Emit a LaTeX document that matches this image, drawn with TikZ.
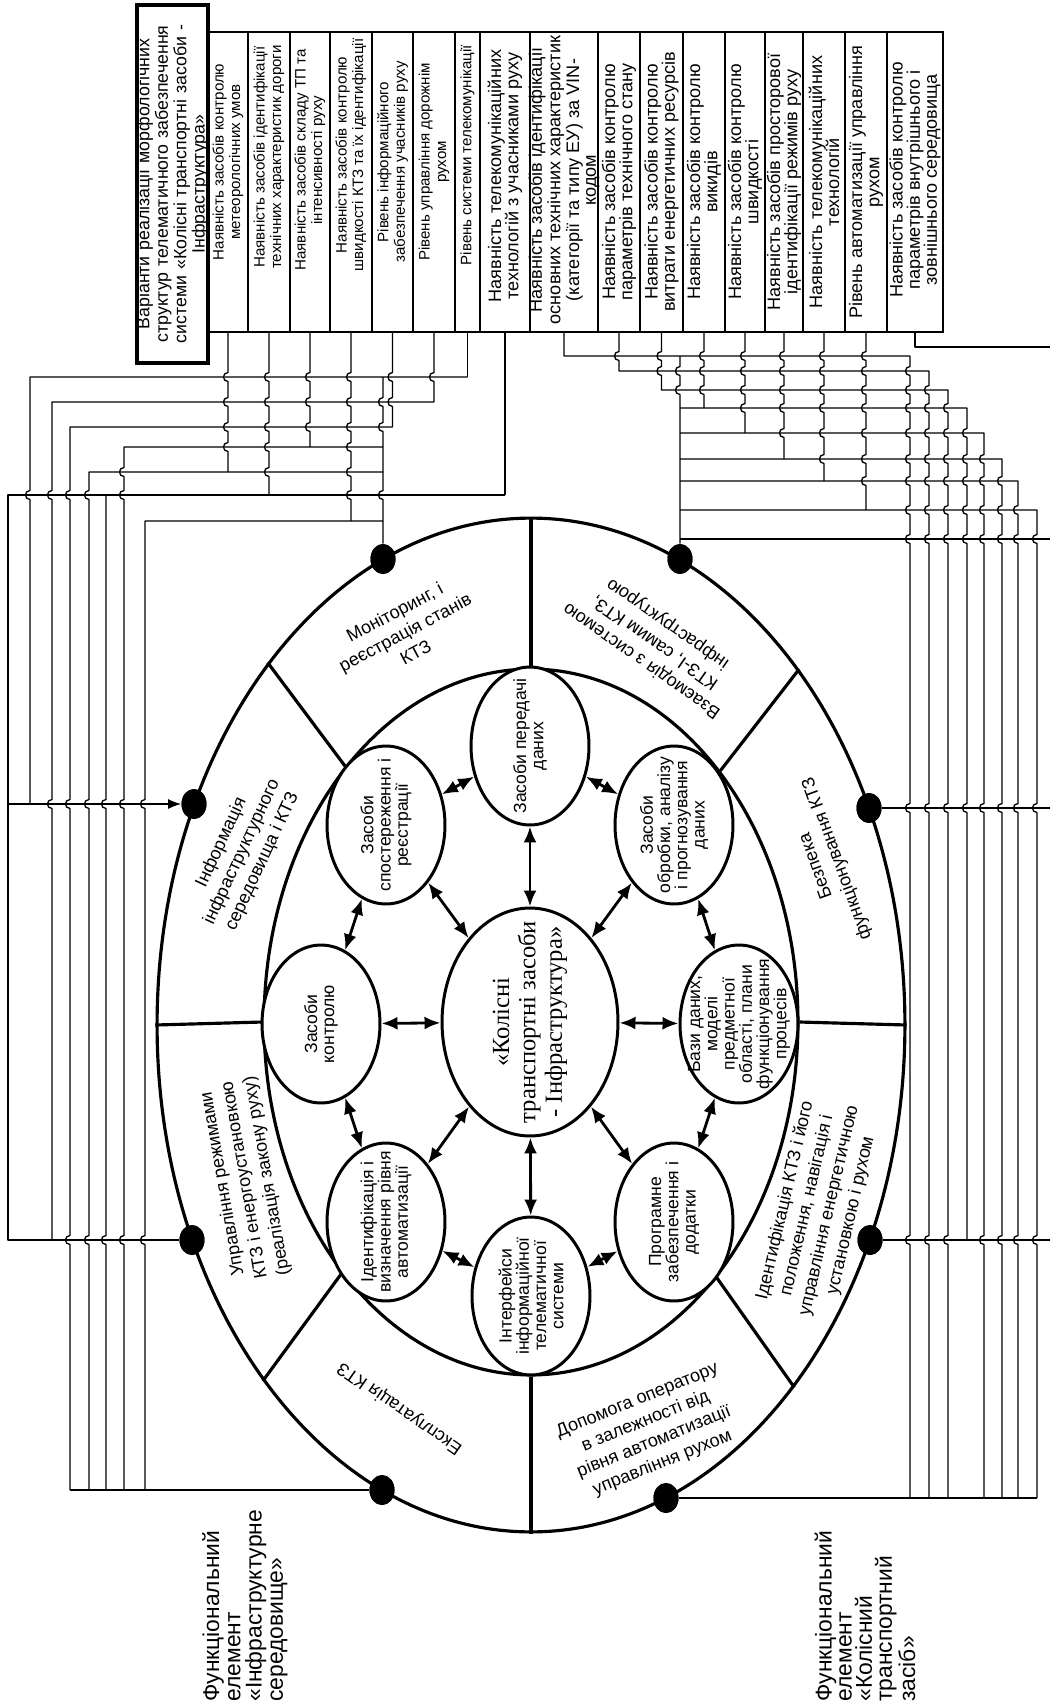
\documentclass[tikz,border=0pt]{standalone}
\usepackage{fontspec}
\setmainfont{Liberation Sans}
\newfontfamily\serifcyr{Liberation Serif}
\usetikzlibrary{shapes.geometric,arrows.meta}
\begin{document}
\begin{tikzpicture}[x=0.02cm,y=-0.02cm,
  wire/.style={line width=0.75pt, line join=round},
  ringline/.style={line width=1.8pt},
  boxst/.style={draw, line width=0.7pt, minimum height=6cm, inner sep=0pt},
  boxtext/.style={rotate=90, align=center, inner sep=0pt, font=\fontsize{8.6}{9.4}\selectfont},
  boxtextb/.style={rotate=90, align=center, inner sep=0pt, font=\fontsize{10.3}{9.8}\selectfont},
  bigell/.style={ellipse, draw, line width=1.8pt, inner sep=0pt},
  sat/.style={ellipse, draw, fill=white, line width=1.7pt, minimum width=2.36cm, minimum height=3.16cm, inner sep=0pt},
  sattext/.style={rotate=90, align=center, font=\fontsize{10}{9.8}\selectfont, inner sep=0pt},
  ringtext/.style={align=center, font=\fontsize{10.3}{12.8}\selectfont, inner sep=0pt},
  dotst/.style={ellipse, fill=black, minimum width=0.5cm, minimum height=0.6cm, inner sep=0pt},
  arr/.style={line width=1.6pt, {Latex[length=3.2mm,width=2.6mm]}-{Latex[length=3.2mm,width=2.6mm]}},
  flabel/.style={rotate=90, anchor=west, align=left, inner sep=0pt}
]
\useasboundingbox (0,0) rectangle (1050,1704);

% ---------- title and top boxes ----------
\node[draw, line width=2.2pt, rotate=90, minimum width=7.16cm, minimum height=1.42cm, inner xsep=2pt, inner ysep=0pt, text width=6.9cm, align=center, font=\fontsize{10.1}{9.3}\selectfont] (title) at (172.5,184)
 {Варіанти реалізації морфологічних\\структур телематичного забезпечення\\системи «Колісні транспортні засоби -\\Інфраструктура»};

\node[boxst, minimum width=0.80cm] (b1) at (228,182) {};
\node[boxst, minimum width=0.84cm] (b2) at (269,182) {};
\node[boxst, minimum width=0.80cm] (b3) at (310,182) {};
\node[boxst, minimum width=0.84cm] (b4) at (351,182) {};
\node[boxst, minimum width=0.82cm] (b5) at (392.5,182) {};
\node[boxst, minimum width=0.84cm] (b6) at (434,182) {};
\node[boxst, minimum width=0.50cm] (b7) at (467.5,182) {};
\node[boxst, minimum width=1.00cm] (b8) at (505,182) {};
\node[boxst, minimum width=1.36cm] (b9) at (564,182) {};
\node[boxst, minimum width=0.84cm] (b10) at (619,182) {};
\node[boxst, minimum width=0.86cm] (b11) at (661.5,182) {};
\node[boxst, minimum width=0.84cm] (b12) at (704,182) {};
\node[boxst, minimum width=0.80cm] (b13) at (745,182) {};
\node[boxst, minimum width=0.76cm] (b14) at (784,182) {};
\node[boxst, minimum width=0.84cm] (b15) at (824,182) {};
\node[boxst, minimum width=0.84cm] (b16) at (866,182) {};
\node[boxst, minimum width=1.12cm] (b17) at (915,182) {};

\node[boxtext] (bt1) at (228,162) {Наявність засобів контролю\\метеорологічних умов};
\node[boxtext] (bt2) at (269,157) {Наявність засобів ідентифікації\\технічних характеристик дороги};
\node[boxtext] (bt3) at (310,160) {Наявність засобів складу ТП та\\інтенсивності руху};
\node[boxtext] (bt4) at (351,155) {Наявність засобів контролю\\швидкості КТЗ та їх ідентифікації};
\node[boxtext] (bt5) at (392.5,162) {Рівень інформаційного\\забезпечення учасників руху};
\node[boxtext] (bt6) at (434,162) {Рівень управління дорожнім\\рухом};
\node[boxtext] (bt7) at (467.5,155) {Рівень системи телекомунікації};
\node[boxtextb] (bt8) at (505,176) {Наявність телекомунікаційних\\технологій з учасниками руху};
\node[boxtextb, font=\fontsize{10.3}{9.6}\selectfont] (bt9) at (564,180) {Наявність засобів ідентифікації\\основних технічних характеристик\\(категорії та типу ЕУ) за VIN-\\кодом};
\node[boxtextb] (bt10) at (619,182) {Наявність засобів контролю\\параметрів технічного стану};
\node[boxtextb] (bt11) at (661.5,182) {Наявність засобів контролю\\витрати енергетичних ресурсів};
\node[boxtextb] (bt12) at (704,182) {Наявність засобів контролю\\викидів};
\node[boxtextb] (bt13) at (745,182) {Наявність засобів контролю\\швидкості};
\node[boxtextb] (bt14) at (784,182) {Наявність засобів просторової\\ідентифікації режимів руху};
\node[boxtextb] (bt15) at (824,182) {Наявність телекомунікаційних\\технологій};
\node[boxtextb] (bt16) at (866,182) {Рівень автоматизації управління\\рухом};
\node[boxtextb] (bt17) at (915,180) {Наявність засобів контролю\\параметрів внутрішнього і\\зовнішнього середовища};

% ---------- dots ----------
\node[dotst] (dM) at (383,559) {};
\node[dotst] (dI) at (194,804) {};
\node[dotst] (dU) at (192,1240) {};
\node[dotst] (dE) at (382,1490) {};
\node[dotst] (dV) at (680,559) {};
\node[dotst] (dB) at (869,808) {};
\node[dotst] (dId) at (870,1240) {};
\node[dotst] (dD) at (666,1498) {};

% ---------- left wiring ----------
\draw[wire] (b1.south) \foreach \q in {377,402,427,447}{ -- (228,\q-4.5) .. controls (222,\q-4.5) and (222,\q+4.5) .. (228,\q+4.5)} -- (228,472);
\draw[wire] (b2.south) \foreach \q in {377,402,427,447,472}{ -- (269,\q-4.5) .. controls (263,\q-4.5) and (263,\q+4.5) .. (269,\q+4.5)} -- (269,495);
\draw[wire] (b3.south) \foreach \q in {377,402,427}{ -- (310,\q-4.5) .. controls (304,\q-4.5) and (304,\q+4.5) .. (310,\q+4.5)} -- (310,447);
\draw[wire] (b4.south) \foreach \q in {377,402,427,447,472,495}{ -- (351,\q-4.5) .. controls (345,\q-4.5) and (345,\q+4.5) .. (351,\q+4.5)} -- (351,521);
\draw[wire] (b5.south) \foreach \q in {377,402}{ -- (392.5,\q-4.5) .. controls (386.5,\q-4.5) and (386.5,\q+4.5) .. (392.5,\q+4.5)} -- (392.5,427);
\draw[wire] (b6.south) \foreach \q in {377}{ -- (434,\q-4.5) .. controls (428,\q-4.5) and (428,\q+4.5) .. (434,\q+4.5)} -- (434,402);
\draw[wire] (b7.south) -- (467.5,377);
\draw[wire] (b8.south) -- (505,495);

\draw[wire] (467.5,377) -- (30,377) \foreach \q in {495}{ -- (30,\q-4.5) .. controls (24,\q-4.5) and (24,\q+4.5) .. (30,\q+4.5)} -- (30,804);
\draw[wire] (434,402) -- (52,402) \foreach \q in {495,804}{ -- (52,\q-4.5) .. controls (46,\q-4.5) and (46,\q+4.5) .. (52,\q+4.5)} -- (52,1240);
\draw[wire] (392.5,427) -- (70,427) \foreach \q in {495,804,1240}{ -- (70,\q-4.5) .. controls (64,\q-4.5) and (64,\q+4.5) .. (70,\q+4.5)} -- (70,1490);
\draw[wire] (383,447) -- (124,447) \foreach \q in {472,495,804,1240}{ -- (124,\q-4.5) .. controls (118,\q-4.5) and (118,\q+4.5) .. (124,\q+4.5)} -- (124,1490);
\draw[wire] (383,472) -- (89,472) \foreach \q in {495,804,1240}{ -- (89,\q-4.5) .. controls (83,\q-4.5) and (83,\q+4.5) .. (89,\q+4.5)} -- (89,1490);
\draw[wire] (505,495) -- (8,495) -- (8,1240) -- (dU);
\draw[wire] (106,495) \foreach \q in {804,1240}{ -- (106,\q-4.5) .. controls (100,\q-4.5) and (100,\q+4.5) .. (106,\q+4.5)} -- (106,1490);
\draw[wire] (383,521) -- (145,521) \foreach \q in {804,1240}{ -- (145,\q-4.5) .. controls (139,\q-4.5) and (139,\q+4.5) .. (145,\q+4.5)} -- (145,1490);
\draw[wire] (383,377) \foreach \q in {402,427,495}{ -- (383,\q-4.5) .. controls (377,\q-4.5) and (377,\q+4.5) .. (383,\q+4.5)} -- (dM);
\draw[wire,-{Latex[length=2.6mm,width=2mm]}] (8,804) -- (dI);
\draw[wire] (70,1490) -- (dE);

% ---------- right wiring ----------
\draw[wire] (b9.south) -- (564,356) -- (910,356) \foreach \q in {371,390,408,433,459,481,510,539,808,1240}{ -- (910,\q-4.5) .. controls (904,\q-4.5) and (904,\q+4.5) .. (910,\q+4.5)} -- (910,1498);
\draw[wire] (b10.south) \foreach \q in {356}{ -- (619,\q-4.5) .. controls (613,\q-4.5) and (613,\q+4.5) .. (619,\q+4.5)} -- (619,371) -- (929,371) \foreach \q in {390,408,433,459,481,510,539,808,1240}{ -- (929,\q-4.5) .. controls (923,\q-4.5) and (923,\q+4.5) .. (929,\q+4.5)} -- (929,1498);
\draw[wire] (b11.south) \foreach \q in {356,371}{ -- (661.5,\q-4.5) .. controls (655.5,\q-4.5) and (655.5,\q+4.5) .. (661.5,\q+4.5)} -- (661.5,390) -- (948,390) \foreach \q in {408,433,459,481,510,539,808,1240}{ -- (948,\q-4.5) .. controls (942,\q-4.5) and (942,\q+4.5) .. (948,\q+4.5)} -- (948,1498);
\draw[wire] (b12.south) \foreach \q in {356,371,390}{ -- (704,\q-4.5) .. controls (698,\q-4.5) and (698,\q+4.5) .. (704,\q+4.5)} -- (704,408);
\draw[wire] (680,408) -- (967,408) \foreach \q in {433,459,481,510,539,808}{ -- (967,\q-4.5) .. controls (961,\q-4.5) and (961,\q+4.5) .. (967,\q+4.5)} -- (967,1240);
\draw[wire] (b13.south) \foreach \q in {356,371,390,408}{ -- (745,\q-4.5) .. controls (739,\q-4.5) and (739,\q+4.5) .. (745,\q+4.5)} -- (745,433);
\draw[wire] (680,433) -- (984,433) \foreach \q in {459,481,510,539,808,1240}{ -- (984,\q-4.5) .. controls (978,\q-4.5) and (978,\q+4.5) .. (984,\q+4.5)} -- (984,1498);
\draw[wire] (b14.south) \foreach \q in {356,371,390,408,433}{ -- (784,\q-4.5) .. controls (778,\q-4.5) and (778,\q+4.5) .. (784,\q+4.5)} -- (784,459);
\draw[wire] (680,459) -- (1002,459) \foreach \q in {481,510,539,808,1240}{ -- (1002,\q-4.5) .. controls (996,\q-4.5) and (996,\q+4.5) .. (1002,\q+4.5)} -- (1002,1498);
\draw[wire] (b15.south) \foreach \q in {356,371,390,408,433,459}{ -- (824,\q-4.5) .. controls (818,\q-4.5) and (818,\q+4.5) .. (824,\q+4.5)} -- (824,481);
\draw[wire] (680,481) -- (1018,481) \foreach \q in {510,539,808,1240}{ -- (1018,\q-4.5) .. controls (1012,\q-4.5) and (1012,\q+4.5) .. (1018,\q+4.5)} -- (1018,1498);
\draw[wire] (b16.south) \foreach \q in {356,371,390,408,433,459,481}{ -- (866,\q-4.5) .. controls (860,\q-4.5) and (860,\q+4.5) .. (866,\q+4.5)} -- (866,510);
\draw[wire] (680,510) -- (1037,510) \foreach \q in {539,808,1240}{ -- (1037,\q-4.5) .. controls (1031,\q-4.5) and (1031,\q+4.5) .. (1037,\q+4.5)} -- (1037,1498);
\draw[wire] (680,539) -- (1050,539);
\draw[wire] (b17.south) -- (915,347) -- (1050,347);
\draw[wire] (680,356) \foreach \q in {371,390}{ -- (680,\q-4.5) .. controls (674,\q-4.5) and (674,\q+4.5) .. (680,\q+4.5)} -- (dV);
\draw[wire] (dB) -- (1050,808);
\draw[wire] (dId) -- (1050,1240);
\draw[wire] (dD) -- (1037,1498);

% ---------- ellipses ----------
\node[bigell, minimum width=14.96cm, minimum height=20.28cm] (outer) at (531,1025) {};
\node[bigell, minimum width=10.68cm, minimum height=14.12cm] (mid) at (531,1022) {};
\foreach \a in {0,53.4,90,126.6,180,233.4,270,306.6}{
  \draw[ringline] (mid.\a) -- (outer.\a);
}
% dots drawn again over the outer ellipse line
\node[dotst] (dM2) at (dM) {};
\node[dotst] (dI2) at (dI) {};
\node[dotst] (dU2) at (dU) {};
\node[dotst] (dE2) at (dE) {};
\node[dotst] (dV2) at (dV) {};
\node[dotst] (dB2) at (dB) {};
\node[dotst] (dId2) at (dId) {};
\node[dotst] (dD2) at (dD) {};

\node[bigell, fill=white, line width=1.7pt, minimum width=3.52cm, minimum height=4.56cm] (ctr) at (530,1022) {};
\node[sat] (sT) at (530,746) {};
\node[sat] (sUL) at (386,825) {};
\node[sat] (sL) at (321,1024) {};
\node[sat] (sLL) at (386,1222) {};
\node[sat] (sB) at (531,1296) {};
\node[sat] (sLR) at (674,1222) {};
\node[sat] (sR) at (739,1024) {};
\node[sat] (sUR) at (674,825) {};

\foreach \s in {sT,sUL,sL,sLL,sB,sLR,sR,sUR}{ \draw[arr] (ctr) -- (\s); }
\draw[arr] (sT) -- (sUL);
\draw[arr] (sUL) -- (sL);
\draw[arr] (sL) -- (sLL);
\draw[arr] (sLL) -- (sB);
\draw[arr] (sB) -- (sLR);
\draw[arr] (sLR) -- (sR);
\draw[arr] (sR) -- (sUR);
\draw[arr] (sUR) -- (sT);

% ---------- texts in ellipses ----------
\node[rotate=90, align=center, inner sep=0pt, font=\serifcyr\fontsize{14}{15}\selectfont] (tC) at (530,1022) {«Колісні\\транспортні засоби\\- Інфраструктура»};
\node[sattext] (tT) at (sT) {Засоби передачі\\даних};
\node[sattext] (tUL) at (sUL) {Засоби\\спостереження і\\реєстрації};
\node[sattext] (tL) at (sL) {Засоби\\контролю};
\node[sattext] (tLL) at (sLL) {Ідентифікація і\\визначення рівня\\автоматизації};
\node[sattext] (tB) at (sB) {Інтерфейси\\інформаційної\\телематичної\\системи};
\node[sattext] (tLR) at (sLR) {Програмне\\забезпечення і\\додатки};
\node[sattext] (tR) at (sR) {Бази даних,\\моделі\\предметної\\області, плани\\функціонування\\процесів};
\node[sattext] (tUR) at (sUR) {Засоби\\обробки, аналізу\\і прогнозування\\даних};

% ---------- ring texts ----------
\node[ringtext, rotate=28] (r1) at (405,632) {Моніторинг, і\\реєстрація станів\\КТЗ};
\node[ringtext, rotate=65] (r2) at (242,852) {Інформація\\інфраструктурного\\середовища і КТЗ};
\node[ringtext, rotate=100] (r3) at (245,1180) {Управління режимами\\КТЗ і енергоустановкою\\(реалізація закону руху)};
\node[ringtext, rotate=145] (r4) at (400,1408) {Експлуатація КТЗ};
\node[ringtext, rotate=22] (r5) at (650,1432) {Допомога оператору\\в залежності від\\рівня автоматизації\\управління рухом};
\node[ringtext, rotate=77] (r6) at (818,1208) {Ідентифікація КТЗ і його\\положення, навігація і\\управління енергетичною\\установкою і рухом};
\node[ringtext, rotate=110] (r7) at (827,862) {Безпека\\функціонування КТЗ};
\node[ringtext, rotate=145] (r8) at (655,642) {Взаємодія з системою\\КТЗ-І, самим КТЗ,\\інфраструктурою};

% ---------- bottom labels ----------
\node[flabel, font=\fontsize{13}{12.1}\selectfont] (fl1) at (245,1702) {Функціональний\\елемент\\«Інфраструктурне\\середовище»};
\node[flabel, font=\fontsize{13}{11.4}\selectfont] (fl2) at (865,1702) {Функціональний\\елемент\\«Колісний\\транспортний\\засіб»};
\end{tikzpicture}
\end{document}
